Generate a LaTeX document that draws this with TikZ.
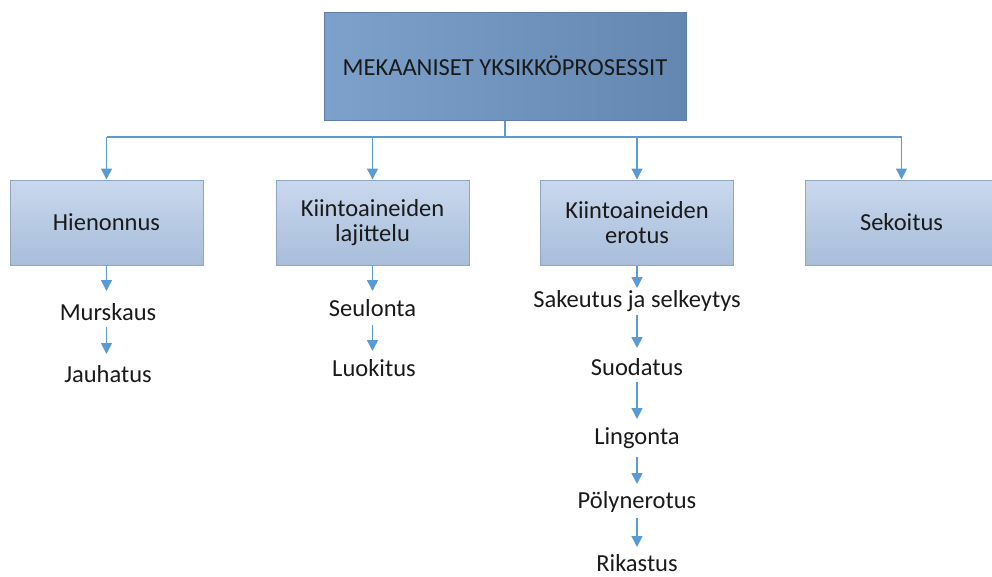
\documentclass[tikz,border=0pt]{standalone}
\usepackage{fontspec}
\setmainfont{Carlito}
\usetikzlibrary{arrows.meta,positioning}
\definecolor{linkblue}{HTML}{5B9BD5}
\definecolor{topfillA}{HTML}{7DA1CB}
\definecolor{topfillB}{HTML}{6487B1}
\definecolor{topline}{HTML}{5F7FA6}
\definecolor{subfillA}{HTML}{C9D8ED}
\definecolor{subfillB}{HTML}{A7BDDA}
\definecolor{subline}{HTML}{8FA6C4}
\definecolor{ink}{HTML}{1A1A1A}
\tikzset{
  x=1pt, y=-1pt,
  bigtxt/.style={font=\fontsize{24.5}{29}\selectfont, text=ink},
  topbox/.style={bigtxt, draw=topline, line width=1pt, left color=topfillA, right color=topfillB,
    minimum width=362pt, minimum height=108pt, inner sep=0pt},
  catbox/.style={bigtxt, draw=subline, line width=1pt, top color=subfillA, bottom color=subfillB,
    minimum width=193pt, minimum height=85pt, inner sep=0pt, align=center},
  item/.style={bigtxt, inner sep=0pt},
  link/.style={draw=linkblue, line width=1.5pt},
  flow/.style={link, -{Triangle[length=11pt,width=11pt]}}
}
\begin{document}
\begin{tikzpicture}
\useasboundingbox (0,0) rectangle (992,576);
\begin{scope}
\clip (0,0) rectangle (992,576);

% top process box
\node[topbox] (top) at (505,66) {MEKAANISET YKSIKKÖPROSESSIT};

% process categories
\node[catbox] (hien) at (106.5,222.5) {Hienonnus};
\node[catbox] (laji) at (372.5,222.5) {Kiintoaineiden\\[-4pt]lajittelu};
\node[catbox] (erot) at (637,222.5) {Kiintoaineiden\\[-4pt]erotus};
\node[catbox] (seko) at (901.5,222.5) {Sekoitus};

% bus line between top box and categories
\coordinate (bus) at (505,137);
\coordinate (busL) at (106.5,137);
\coordinate (busR) at (901.5,137);
\coordinate (b2) at (372.5,137);
\coordinate (b3) at (637,137);
\draw[link] (top.south) -- (bus);
\draw[link] (busL) -- (busR);
\draw[flow] (busL) -- (hien.north);
\draw[flow] (b2) -- (laji.north);
\draw[flow] (b3) -- (erot.north);
\draw[flow] (busR) -- (seko.north);

% sub-processes
\node[item] (murs) at (108,312) {Murskaus};
\node[item] (jauh) at (108,374) {Jauhatus};
\node[item] (seul) at (372.5,308) {Seulonta};
\node[item] (luok) at (374,368) {Luokitus};
\node[item] (sake) at (637,301) {Sakeutus ja selkeytys};
\node[item] (suod) at (637,367) {Suodatus};
\node[item] (ling) at (637,438) {Lingonta};
\node[item] (poly) at (637,502) {Pölynerotus};
\node[item] (rika) at (637,563) {Rikastus};

% sub-process arrows
\coordinate (h1) at (106.5,291);
\coordinate (h2a) at (106.5,327);
\coordinate (h2b) at (106.5,354);
\coordinate (l1) at (372.5,291);
\coordinate (l2a) at (372.5,325);
\coordinate (l2b) at (372.5,351);
\coordinate (e1) at (637,288);
\coordinate (e2a) at (637,315);
\coordinate (e2b) at (637,348);
\coordinate (e3a) at (637,382);
\coordinate (e3b) at (637,419);
\coordinate (e4a) at (637,457);
\coordinate (e4b) at (637,484);
\coordinate (e5a) at (637,518);
\coordinate (e5b) at (637,547);
\draw[flow] (hien.south) -- (h1);
\draw[flow] (h2a) -- (h2b);
\draw[flow] (laji.south) -- (l1);
\draw[flow] (l2a) -- (l2b);
\draw[flow] (erot.south) -- (e1);
\draw[flow] (e2a) -- (e2b);
\draw[flow] (e3a) -- (e3b);
\draw[flow] (e4a) -- (e4b);
\draw[flow] (e5a) -- (e5b);
\end{scope}
\end{tikzpicture}
\end{document}
